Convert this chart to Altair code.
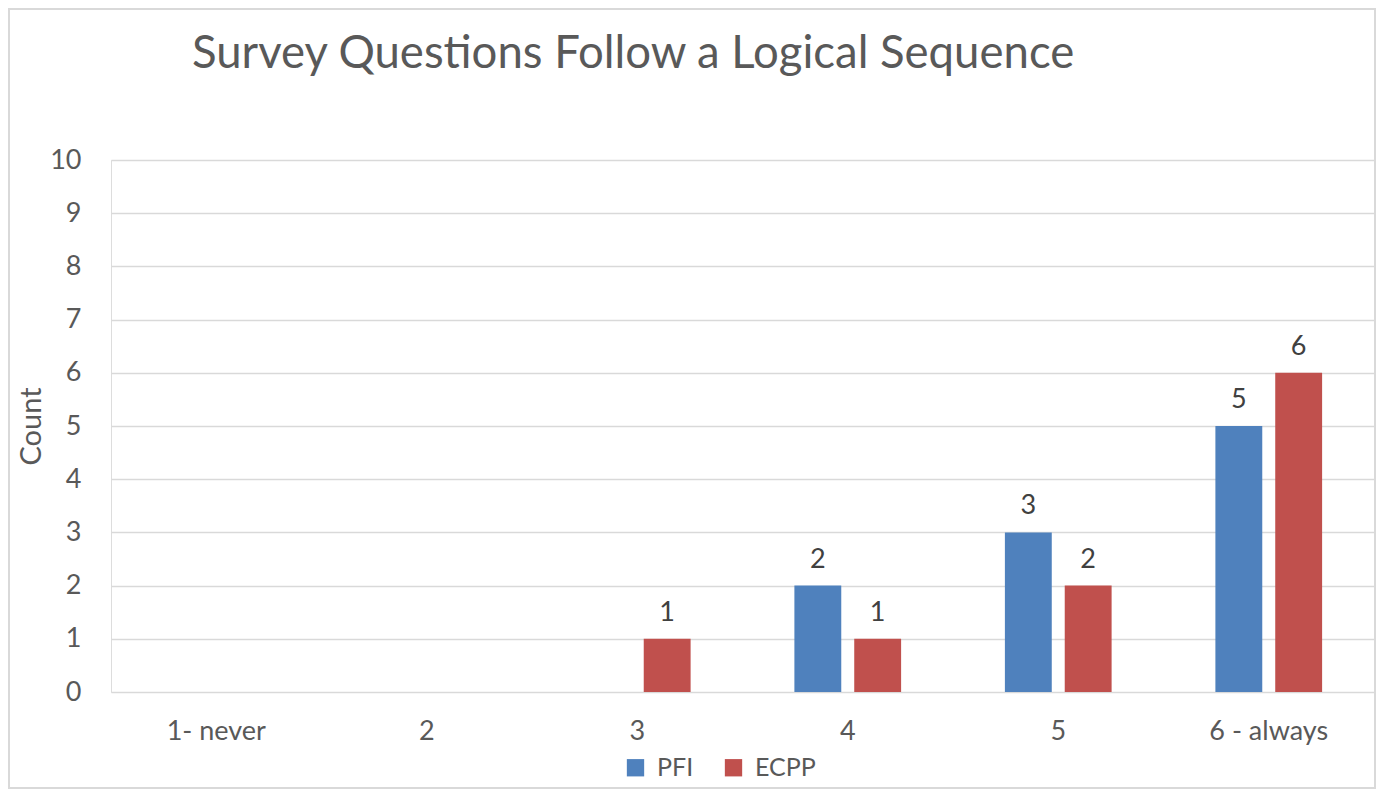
import altair as alt
import pandas as pd

categories = ["1- never", "2", "3", "4", "5", "6 - always"]
series = ["PFI", "ECPP"]
pfi_counts = [0, 0, 0, 2, 3, 5]
ecpp_counts = [0, 0, 1, 1, 2, 6]
colors = ["#4F81BD", "#C0504D"]
y_ticks = list(range(0, 11))
title_text = "Survey Questions Follow a Logical Sequence"

rows = []
for c, p, e in zip(categories, pfi_counts, ecpp_counts):
    rows.append({"category": c, "series": "PFI", "count": p})
    rows.append({"category": c, "series": "ECPP", "count": e})
df = pd.DataFrame(rows)

FONT = "Lato"
TXT = "#595959"

x_enc = alt.X("category:N", sort=categories,
              scale=alt.Scale(paddingInner=0, paddingOuter=0),
              axis=alt.Axis(title=None, labelAngle=0, labelFontSize=27, labelColor=TXT,
                            labelFont=FONT, domain=False, ticks=False, labelPadding=26))
xo_enc = alt.XOffset("series:N", sort=series,
                     scale=alt.Scale(paddingInner=0.2167, paddingOuter=0.867))
y_enc = alt.Y("count:Q", scale=alt.Scale(domain=[0, 10], nice=False),
              axis=alt.Axis(values=y_ticks, title="Count", titleFontSize=29, titleColor=TXT,
                            titleFont=FONT, titleFontWeight="normal", titlePadding=3,
                            labelFontSize=27, labelColor=TXT, labelFont=FONT,
                            domain=False, ticks=False, labelPadding=30,
                            grid=True, gridColor="#d9d9d9", gridWidth=1.3))

bars = alt.Chart(df).mark_bar().encode(
    x=x_enc, xOffset=xo_enc, y=y_enc,
    color=alt.Color("series:N", sort=series,
                    scale=alt.Scale(domain=series, range=colors),
                    legend=alt.Legend(title=None, orient="none", legendX=512, legendY=595,
                                      direction="horizontal", symbolType="square",
                                      symbolSize=300, symbolStrokeWidth=0,
                                      labelFontSize=25, labelColor=TXT, labelFont=FONT,
                                      labelOffset=9, columnPadding=27))
)

labels = alt.Chart(df).transform_filter("datum.count > 0").mark_text(
    baseline="bottom", dy=-12, fontSize=27, color="#404040", font=FONT
).encode(x=x_enc, xOffset=xo_enc, y=y_enc, text=alt.Text("count:Q"))

border = alt.Chart(pd.DataFrame({"a": [0]})).mark_rect(
    fill=None, stroke="#d9d9d9", strokeWidth=2
).encode(x=alt.value(-102), x2=alt.value(1264), y=alt.value(-151), y2=alt.value(628))

title = alt.Chart(pd.DataFrame({"t": [title_text]})).mark_text(
    align="left", baseline="alphabetic", fontSize=45.5, font=FONT, color=TXT
).encode(text="t:N", x=alt.value(81), y=alt.value(-92))

chart = alt.layer(border, title, bars, labels).properties(
    width=1263, height=532,
    padding={"left": 103, "top": 152, "right": 3, "bottom": 104},
    autosize=alt.AutoSizeParams(type="none"),
).configure_view(stroke=None).configure(background="white")

chart.save("out.html", embed_options={"renderer": "svg", "actions": False})
